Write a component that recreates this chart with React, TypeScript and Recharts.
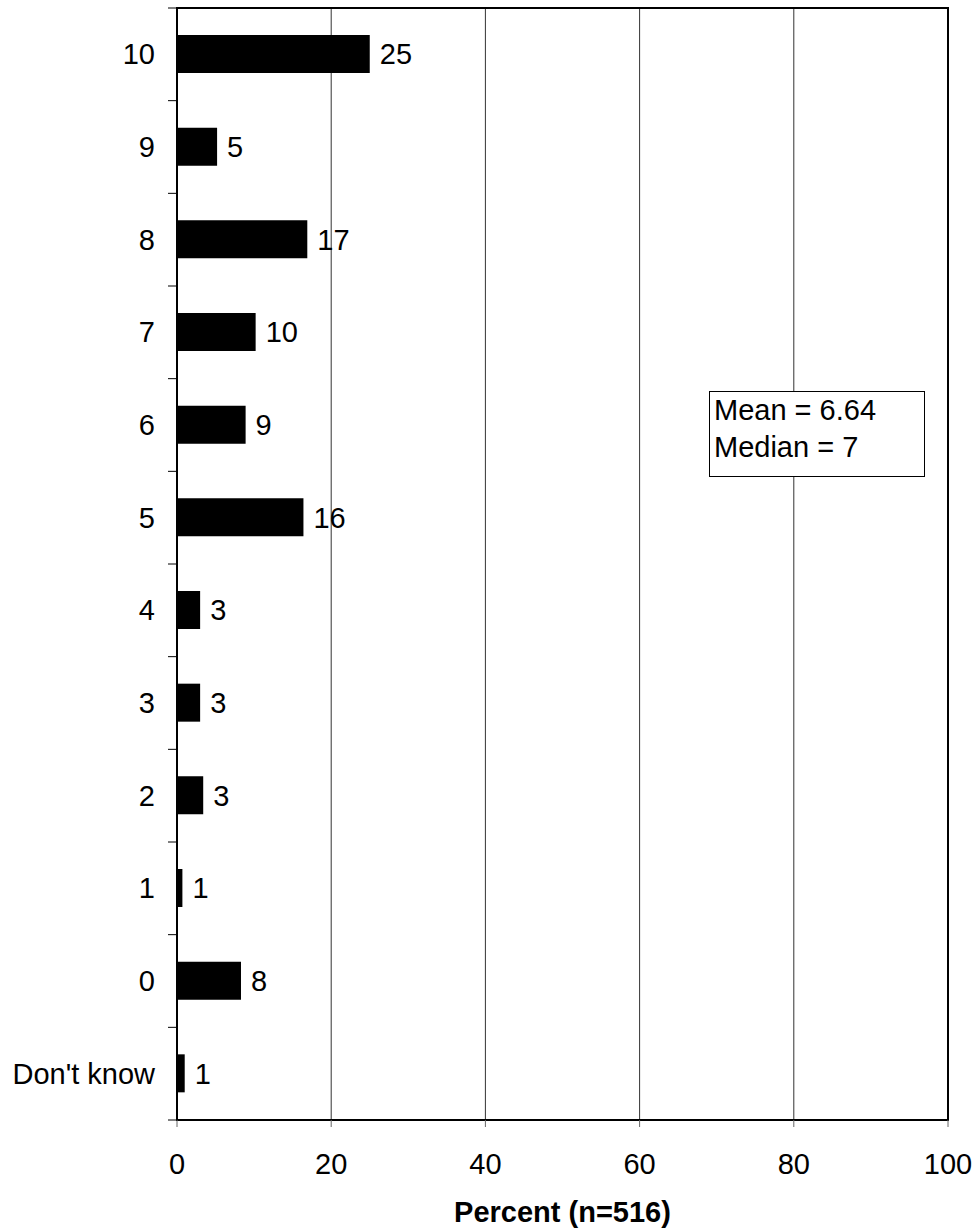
import { BarChart, Bar, XAxis, YAxis, CartesianGrid, LabelList, ReferenceArea } from 'recharts';

const categories = ['10', '9', '8', '7', '6', '5', '4', '3', '2', '1', '0', "Don't know"];
const percents = [25, 5.2, 16.9, 10.2, 8.9, 16.4, 3, 3, 3.4, 0.7, 8.3, 1];
const xTicks = [0, 20, 40, 60, 80, 100];

const data = categories.map((cat, i) => ({ cat, value: percents[i] }));

const W = 978;
const H = 1232;
const LEFT = 177;
const TOP = 8;
const BOTTOM = 1120;
const band = (BOTTOM - TOP) / categories.length;
const FONT = '"Liberation Sans", Arial, Helvetica, sans-serif';
const FS = 29;

const YTick = (props: any) => {
  const { y, payload, index } = props;
  const last = index === categories.length - 1;
  return (
    <g>
      <text x={LEFT - 22} y={y} textAnchor="end" dominantBaseline="central" fontSize={FS} fill="#000" fontFamily={FONT}>
        {payload.value}
      </text>
      <line x1={LEFT - 9} x2={LEFT} y1={y - band / 2} y2={y - band / 2} stroke="#000" strokeWidth={1} />
      {last && <line x1={LEFT - 9} x2={LEFT} y1={y + band / 2} y2={y + band / 2} stroke="#000" strokeWidth={1} />}
    </g>
  );
};

export default function App() {
  return (
    <div style={{ position: 'absolute', left: 0, top: 0, width: W, height: H, fontFamily: FONT }}>
      <BarChart
        width={W}
        height={H}
        data={data}
        layout="vertical"
        margin={{ top: TOP, right: W - 948, bottom: 0, left: 0 }}
        barSize={38}
      >
        <CartesianGrid horizontal={false} stroke="#333" strokeWidth={1} />
        <XAxis
          type="number"
          domain={[0, 100]}
          ticks={xTicks}
          height={H - BOTTOM}
          axisLine={{ stroke: '#000', strokeWidth: 2 }}
          tickLine={{ stroke: '#666' }}
          tickSize={7}
          tickMargin={26}
          tick={{ fontSize: FS, fill: '#000', fontFamily: FONT }}
          label={{
            value: 'Percent (n=516)',
            position: 'insideBottom',
            offset: 10,
            fontSize: FS,
            fontWeight: 'bold',
            fill: '#000',
            fontFamily: FONT,
          }}
        />
        <YAxis
          type="category"
          dataKey="cat"
          width={LEFT}
          axisLine={{ stroke: '#000', strokeWidth: 2 }}
          tickLine={false}
          tick={<YTick />}
          interval={0}
        />
        <ReferenceArea x1={0} x2={100} fill="none" stroke="#000" strokeWidth={2} ifOverflow="visible" />
        <Bar dataKey="value" fill="#000" isAnimationActive={false}>
          <LabelList
            dataKey="value"
            position="right"
            offset={10}
            formatter={(v: any) => Math.round(Number(v))}
            style={{ fontSize: FS, fill: '#000', fontFamily: FONT }}
          />
        </Bar>
      </BarChart>
      <div
        style={{
          position: 'absolute',
          left: 709,
          top: 391,
          width: 216,
          height: 86,
          boxSizing: 'border-box',
          border: '1.5px solid #000',
          background: '#fff',
          fontSize: FS,
          lineHeight: '37px',
          color: '#000',
          overflow: 'hidden',
        }}
      >
        <div style={{ position: 'relative', top: 0, left: 4 }}>
          <div>Mean = 6.64</div>
          <div>Median = 7</div>
        </div>
      </div>
    </div>
  );
}
